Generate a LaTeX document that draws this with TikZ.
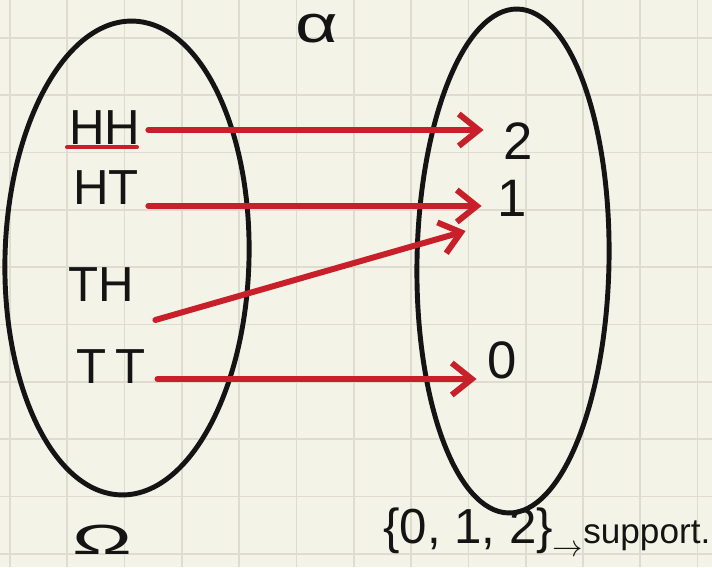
\documentclass[tikz,border=0pt]{standalone}
\usepackage{fontspec}
\setmainfont{Liberation Sans}
\usetikzlibrary{arrows.meta}
\definecolor{paper}{HTML}{F4F3E7}
\definecolor{gridline}{HTML}{DDDCCE}
\definecolor{ink}{HTML}{141414}
\definecolor{marker}{HTML}{C8202A}
\tikzset{
  setoval/.style={
    draw=ink,
    line width=2.8pt
  },
  maparrow/.style={
    -{Straight Barb[length=4mm,width=6.4mm]},
    draw=marker,
    line width=3.4pt,
    line cap=round,
    line join=round
  },
  outcome/.style={
    text=ink,
    inner sep=0pt,
    font=\fontsize{28}{30}\selectfont
  },
  value/.style={
    text=ink,
    inner sep=0pt,
    font=\fontsize{30}{32}\selectfont
  }
}

\begin{document}
\begin{tikzpicture}[x=0.02cm, y=-0.02cm]
  \useasboundingbox[fill=paper] (0,0) rectangle (712,567);
  \foreach \gx in {0,...,12}{
    \draw[gridline, line width=0.35mm] ({10+57.3*\gx},0) -- ({10+57.3*\gx},567);
  }
  \foreach \gy in {1,...,10}{
    \draw[gridline, line width=0.35mm] (0,{-19.3+57.3*\gy}) -- (712,{-19.3+57.3*\gy});
  }
  \draw[setoval, rotate around={-1.5:(127,258)}]
    (127,258) ellipse [x radius=122, y radius=237];
  \draw[setoval, rotate around={-1:(513,261)}]
    (513,261) ellipse [x radius=96, y radius=252];

  \foreach \nm/\px/\py/\txt in {
    hh/105/128/HH,
    ht/106/188/HT,
    th/101/285/TH,
    tt/111/367/T\,T
  }{
    \node[outcome] (\nm) at (\px,\py) {\txt};
  }
  \node[value] (two) at (518,141) {2};
  \node[value] (one) at (512,198) {1};
  \node[value] (zero) at (502,360) {0};

  \node[outcome, font=\fontsize{30}{32}\selectfont, xscale=1.4] (alpha) at (317,29) {α};
  \node[outcome, font=\fontsize{24}{26}\selectfont, xscale=1.9] (omega) at (102,540) {Ω};
  \node[outcome, anchor=base west] (support) at (383,543)
    {\{0, 1, 2\}\raisebox{-0.5ex}{\fontsize{19}{21}\selectfont$\rightarrow$}{\fontsize{20}{22}\selectfont support.}};

  \draw[marker, line width=2.4pt, line cap=round]
    ([shift={(-2,2)}]hh.south west) -- ([shift={(-4,2)}]hh.south east);

  \draw[maparrow] ([shift={(7.5,2)}]hh.east) -- ([shift={(-19.4,-11)}]two.west);
  \draw[maparrow] ([shift={(9.2,18)}]ht.east) -- ([shift={(-15.4,8)}]one.west);
  \draw[maparrow] ([shift={(21.2,35)}]th.east) -- ([shift={(-31.4,33)}]one.west);
  \draw[maparrow] ([shift={(12,12)}]tt.east) -- ([shift={(-10.4,19)}]zero.west);
\end{tikzpicture}
\end{document}
